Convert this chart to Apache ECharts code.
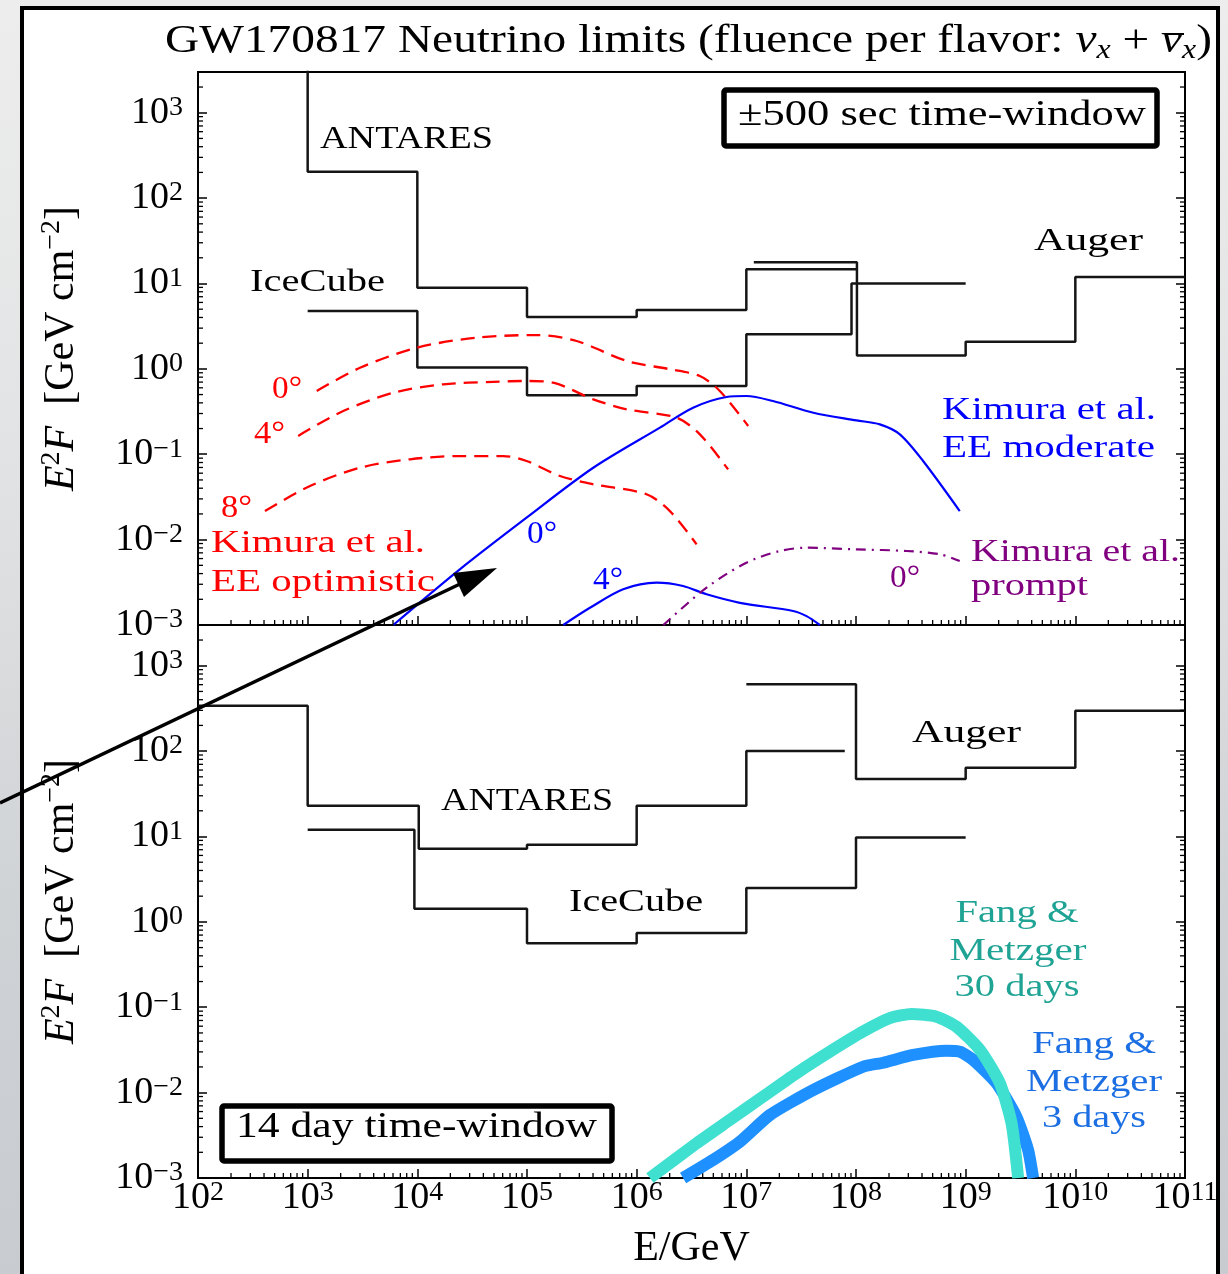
<!DOCTYPE html>
<html>
<head>
<meta charset="utf-8">
<title>GW170817 Neutrino limits</title>
<script src="https://cdn.jsdelivr.net/npm/echarts@6/dist/echarts.min.js"></script>
<style>
  html, body { margin:0; padding:0; }
  body { width:1228px; height:1274px; overflow:hidden; position:relative;
         background: linear-gradient(to bottom, #ededed 0%, #e2e3e4 35%, #d0d3d6 70%, #c8cbcf 100%); }
  #frame { position:absolute; left:20px; top:6px; width:1192px; height:1300px; border:4px solid #000; background:#fff; }
  #chart { position:absolute; left:0; top:0; width:1228px; height:1274px; }
</style>
</head>
<body>
<div id="frame"></div>
<div id="chart"></div>
<script>
// ===================== DATA =====================
// Axis decades (exponents of 10) shown as tick labels
const xDecades = [2, 3, 4, 5, 6, 7, 8, 9, 10, 11];      // E/GeV
const yDecades = [-3, -2, -1, 0, 1, 2, 3];              // E^2 F [GeV cm^-2]

// ---- Upper panel: +-500 s time window (step limits: bin edges in GeV, values) ----
const ANTARES_500_E = [1e2, 1e3, 1e4, 1e5, 1e6, 1e7, 1e8];
const ANTARES_500_V = [5e3, 204, 8.9, 4.05, 4.9, 14.7];
const ICECUBE_500_E = [1e3, 1e4, 1e5, 1e6, 1e7, 9.1e7, 1e9];
const ICECUBE_500_V = [4.76, 1.04, 0.49, 0.63, 2.54, 10.0];
const AUGER_500_E   = [1.17e7, 1.02e8, 1e9, 1e10, 1e11];
const AUGER_500_V   = [17.7, 1.43, 2.08, 11.9];

// Kimura et al. EE optimistic (red dashed)
const KIM_OPT_0_E = [1.21e3, 3.0e3, 9.86e3, 3.48e4, 1.22e5, 2.83e5, 8.09e5, 2.01e6, 3.77e6, 5.73e6, 1.04e7];
const KIM_OPT_0_V = [0.551, 1.03, 1.77, 2.32, 2.49, 2.12, 1.24, 0.99, 0.824, 0.551, 0.214];
const KIM_OPT_4_E = [8.2e2, 2.11e3, 6.03e3, 1.72e4, 4.92e4, 9.91e4, 1.73e5, 4.02e5, 8.09e5, 2.31e6, 3.77e6, 6.82e6];
const KIM_OPT_4_V = [0.164, 0.321, 0.525, 0.659, 0.706, 0.721, 0.689, 0.44, 0.336, 0.268, 0.171, 0.0665];
const KIM_OPT_8_E = [4.08e2, 1.05e3, 3.0e3, 8.57e3, 2.44e4, 6.07e4, 9.91e4, 2.0e5, 4.02e5, 1.23e6, 2.01e6, 3.52e6];
const KIM_OPT_8_V = [0.0216, 0.0425, 0.0695, 0.0873, 0.0953, 0.0953, 0.0834, 0.0556, 0.0445, 0.034, 0.0216, 0.0088];

// Kimura et al. EE moderate (blue solid)
const KIM_MOD_0_E = [6.03e3, 2.44e4, 9.91e4, 4.02e5, 1.63e6, 3.27e6, 6.59e6, 1.0e7, 1.75e7, 4.09e7, 1.01e8, 1.65e8, 2.51e8, 4.09e8, 8.83e8];
const KIM_MOD_0_V = [1.0e-3, 4.49e-3, 0.0181, 0.0695, 0.205, 0.351, 0.468, 0.481, 0.42, 0.306, 0.249, 0.224, 0.171, 0.0834, 0.0216];
const KIM_MOD_4_E = [2.14e5, 3.75e5, 7.53e5, 1.52e6, 2.65e6, 4.34e6, 8.73e6, 2.67e7, 3.54e7, 4.68e7];
const KIM_MOD_4_V = [1.0e-3, 1.59e-3, 2.62e-3, 3.13e-3, 2.86e-3, 2.29e-3, 1.82e-3, 1.46e-3, 1.27e-3, 1.0e-3];

// Kimura et al. prompt (purple dash-dot)
const KIM_PROMPT_E = [1.75e6, 4.34e6, 1.0e7, 2.02e7, 3.54e7, 1.01e8, 2.89e8, 5.81e8, 8.83e8];
const KIM_PROMPT_V = [1.0e-3, 2.74e-3, 5.36e-3, 7.36e-3, 8.04e-3, 7.69e-3, 7.36e-3, 6.73e-3, 5.62e-3];

// ---- Lower panel: 14 day time window ----
const ANTARES_14D_E = [1e2, 1e3, 1.03e4, 1e5, 1e6, 1e7, 7.9e7];
const ANTARES_14D_V = [340, 22.9, 7.2, 8.0, 22.9, 100];
const ICECUBE_14D_E = [1e3, 9.4e3, 1e5, 1e6, 1e7, 1e8, 1e9];
const ICECUBE_14D_V = [12.0, 1.42, 0.56, 0.74, 2.5, 9.7];
const AUGER_14D_E   = [1e7, 1e8, 1e9, 1e10, 1e11];
const AUGER_14D_V   = [607, 47, 64, 297];

// Fang & Metzger
const FM30_E = [1.32e6, 3.52e6, 7.08e6, 1.42e7, 2.87e7, 5.78e7, 1.16e8, 2.03e8, 3.21e8, 5.42e8, 8.24e8, 1.35e9, 2.05e9, 2.62e9, 3.01e9];
const FM30_V = [1.0e-3, 2.55e-3, 4.79e-3, 8.97e-3, 0.0169, 0.0302, 0.0519, 0.0745, 0.0836, 0.0776, 0.0593, 0.0316, 0.0129, 4.38e-3, 1.0e-3];
const FM3_E  = [2.65e6, 4.98e6, 8.73e6, 1.64e7, 4.06e7, 1.16e8, 1.77e8, 3.32e8, 6.68e8, 8.83e8, 1.17e9, 1.91e9, 2.9e9, 3.71e9, 4.12e9];
const FM3_V  = [1.0e-3, 1.63e-3, 2.66e-3, 5.47e-3, 0.0107, 0.0201, 0.0224, 0.0276, 0.031, 0.0302, 0.0242, 0.0129, 5.22e-3, 2.13e-3, 1.0e-3];

// ===================== HELPERS =====================
const SERIF = '"Liberation Serif","Times New Roman",Times,serif';
const RED = '#ff0000', BLUE = '#0000ff', PURPLE = '#800080', TEAL = '#1fa394', FBLUE = '#1c6fe3';

function stepPoints(E, V) {
  const pts = [];
  for (let i = 0; i < V.length; i++) { pts.push([E[i], V[i]]); pts.push([E[i + 1], V[i]]); }
  return pts;
}
function pairs(E, V) { return E.map((e, i) => [e, V[i]]); }

function decadeLabel(v) {
  const l = Math.log10(v), e = Math.round(l);
  if (Math.abs(l - e) > 1e-6) return '';
  if (xDecades.indexOf(e) < 0 && yDecades.indexOf(e) < 0) return '';
  const s = e < 0 ? '\u2212' + (-e) : String(e);
  return '{b|10}{s|' + s + '}';
}
const tickRich = {
  b: { fontFamily: SERIF, fontSize: 38, lineHeight: 38, verticalAlign: 'bottom', color: '#000' },
  s: { fontFamily: SERIF, fontSize: 28, lineHeight: 24, verticalAlign: 'top', color: '#000' }
};

function xAxis(gi, labels) {
  const a = {
    type: 'log', logBase: 10, gridIndex: gi, min: 1e2, max: 1e11, splitNumber: 10,
    axisLine: { show: true, onZero: false, lineStyle: { color: '#000', width: 2 } },
    axisTick: { show: true, inside: true, length: 9, lineStyle: { color: '#000', width: 1.5 } },
    minorTick: { show: false }, splitLine: { show: false },
    axisLabel: { show: labels, formatter: decadeLabel, rich: tickRich, margin: 1,
                 showMinLabel: true, showMaxLabel: true, hideOverlap: false }
  };
  if (labels) {
    a.name = 'E/GeV'; a.nameLocation = 'middle'; a.nameGap = 50;
    a.nameTextStyle = { fontFamily: SERIF, fontSize: 42, color: '#000' };
  }
  return a;
}
function yAxis(gi, side) {
  const left = side === 'left';
  const a = {
    type: 'log', logBase: 10, gridIndex: gi, min: 1e-3, max: 3000, splitNumber: 10, position: side,
    axisLine: { show: true, onZero: false, lineStyle: { color: '#000', width: 2 } },
    axisTick: { show: true, inside: true, length: 9, lineStyle: { color: '#000', width: 1.5 } },
    minorTick: { show: false }, splitLine: { show: false },
    axisLabel: { show: left, formatter: decadeLabel, rich: tickRich, margin: 15,
                 showMinLabel: true, showMaxLabel: true, hideOverlap: false }
  };
  if (left) {
    a.name = '{i|E}{s|2}{i|F}  [GeV cm{s|\u22122}]';
    a.nameLocation = 'middle'; a.nameRotate = 90; a.nameGap = 112; a.nameMoveOverlap = false;
    a.nameTextStyle = {
      fontFamily: SERIF, fontSize: 42, lineHeight: 48, color: '#000',
      rich: {
        i: { fontFamily: SERIF, fontStyle: 'italic', fontSize: 42, lineHeight: 48, color: '#000' },
        s: { fontFamily: SERIF, fontSize: 28, lineHeight: 30, verticalAlign: 'top', color: '#000' }
      }
    };
  }
  return a;
}

function stepSeries(name, E, V, gi) {
  return { name, type: 'line', xAxisIndex: gi, yAxisIndex: gi, data: stepPoints(E, V),
    showSymbol: false, symbol: 'none', clip: true, silent: true, z: 3,
    lineStyle: { color: '#151515', width: 2.5 }, itemStyle: { color: '#151515' } };
}
function curveSeries(name, E, V, gi, color, width, type, z, smooth) {
  return { name, type: 'line', xAxisIndex: gi, yAxisIndex: gi, data: pairs(E, V),
    showSymbol: false, symbol: 'none', clip: true, silent: true, smooth: smooth || 0.3, z: z || 4,
    lineStyle: { color, width, type: type || 'solid', cap: 'butt', join: 'round' }, itemStyle: { color } };
}

// minor tick marks (axis decoration at 2..9 x 10^n)
function minorTickMarks() {
  const d = [];
  for (let e = 2; e < 11; e++) for (let m = 2; m <= 9; m++) d.push([m * Math.pow(10, e), 1e-3, 0]);
  for (let e = -3; e < 4; e++) for (let m = 2; m <= 9; m++) {
    const v = m * Math.pow(10, e);
    if (v < 3000) { d.push([1e2, v, 1]); d.push([1e11, v, 2]); }
  }
  return d;
}
function minorTickSeries(gi) {
  return { type: 'custom', coordinateSystem: 'cartesian2d', xAxisIndex: gi, yAxisIndex: gi,
    data: minorTickMarks(), clip: false, silent: true, z: 5,
    renderItem: function (params, api) {
      const p = api.coord([api.value(0), api.value(1)]);
      const dir = api.value(2);
      let shape;
      if (dir === 0) shape = { x1: p[0], y1: p[1], x2: p[0], y2: p[1] - 5 };
      else if (dir === 1) shape = { x1: p[0], y1: p[1], x2: p[0] + 5, y2: p[1] };
      else shape = { x1: p[0], y1: p[1], x2: p[0] - 5, y2: p[1] };
      return { type: 'line', shape, style: { stroke: '#000', lineWidth: 1.3 } };
    } };
}

// text annotations, horizontally scaled to match the reference's wide lettering
const mctx = document.createElement('canvas').getContext('2d');
function measure(text, font) { mctx.font = font; return mctx.measureText(text).width; }
function label(text, x, cy, size, color, width, align) {
  const sx = width ? width / measure(text, size + 'px "Liberation Serif"') : 1;
  return { type: 'text', x, y: cy, scaleX: sx, z: 60,
    style: { text, fontSize: size, fontFamily: SERIF, fill: color, align: align || 'left', verticalAlign: 'middle' } };
}

// title:  GW170817 Neutrino limits (fluence per flavor: nu_x + nubar_x)
const TITLE_MAIN = 'GW170817 Neutrino limits (fluence per flavor: ';
const F40 = '40px "Liberation Serif"', F40I = 'italic 40px "Liberation Serif"', F27I = 'italic 27px "Liberation Serif"';
const wMain = measure(TITLE_MAIN, F40), wNu = measure('\u03bd', F40I), wX = measure('x', F27I), wPlus = measure(' + ', F40);
const titleWidth = wMain + 2 * wNu + 2 * wX + wPlus + measure(')', F40);
const TSX = 1047 / titleWidth;
const nubarX = 165 + TSX * (wMain + wNu + wX + wPlus);
const titleEl = { type: 'text', x: 165, y: 41, scaleX: TSX, z: 60,
  style: { text: TITLE_MAIN + '{n|\u03bd}{x|x} + {n|\u03bd}{x|x})', fontSize: 40, fontFamily: SERIF, lineHeight: 46,
    fill: '#000', align: 'left', verticalAlign: 'middle',
    rich: { n: { fontFamily: SERIF, fontStyle: 'italic', fontSize: 40, lineHeight: 46 },
            x: { fontFamily: SERIF, fontStyle: 'italic', fontSize: 27, lineHeight: 32, verticalAlign: 'bottom' } } } };
const nubarEl = { type: 'line', shape: { x1: nubarX + 4, y1: 34, x2: nubarX + TSX * wNu + 2, y2: 34 },
  style: { stroke: '#000', lineWidth: 2 }, z: 60 };

const graphics = [
  titleEl, nubarEl,
  // boxes
  { type: 'rect', shape: { x: 724, y: 90, width: 433, height: 56, r: 2 }, style: { fill: '#fff', stroke: '#000', lineWidth: 5.5 }, z: 55 },
  { type: 'rect', shape: { x: 222, y: 1106, width: 390, height: 55, r: 2 }, style: { fill: '#fff', stroke: '#000', lineWidth: 5.5 }, z: 55 },
  label('\u00b1500 sec time-window', 738, 116, 35, '#000', 408),
  label('14 day time-window', 236, 1128, 35, '#000', 361),
  // upper panel labels
  label('ANTARES', 320, 140, 31, '#000', 173),
  label('IceCube', 250, 283, 31, '#000', 135),
  label('Auger', 1034, 242, 32, '#000', 109),
  label('0\u00b0', 272, 390, 31, RED, 30),
  label('4\u00b0', 254, 435, 31, RED, 31),
  label('8\u00b0', 221, 509, 31, RED, 31),
  label('Kimura et al.', 211, 544, 32, RED, 214),
  label('EE optimistic', 211, 583, 32, RED, 224),
  label('0\u00b0', 527, 535, 31, BLUE, 30),
  label('4\u00b0', 593, 581, 31, BLUE, 30),
  label('Kimura et al.', 942, 411, 32, BLUE, 214),
  label('EE moderate', 942, 449, 32, BLUE, 213),
  label('0\u00b0', 890, 579, 31, PURPLE, 30),
  label('Kimura et al.', 971, 553, 32, PURPLE, 209),
  label('prompt', 971, 587, 32, PURPLE, 117),
  // lower panel labels
  label('Auger', 912, 734, 32, '#000', 109),
  label('ANTARES', 441, 802, 31, '#000', 172),
  label('IceCube', 569, 903, 31, '#000', 134),
  label('Fang &', 1017, 914, 31, TEAL, 123, 'center'),
  label('Metzger', 1018, 952, 31, TEAL, 137, 'center'),
  label('30 days', 1017, 988, 31, TEAL, 125, 'center'),
  label('Fang &', 1094, 1045, 31, FBLUE, 124, 'center'),
  label('Metzger', 1094, 1083, 31, FBLUE, 136, 'center'),
  label('3 days', 1094, 1119, 31, FBLUE, 104, 'center'),
  // annotation arrow
  { type: 'line', shape: { x1: 0, y1: 803, x2: 460, y2: 584 }, style: { stroke: '#000', lineWidth: 3.5 }, z: 100 },
  { type: 'polygon', shape: { points: [[497, 568], [453, 573], [464, 597]] }, style: { fill: '#000' }, z: 100 }
];

const option = {
  animation: false,
  backgroundColor: 'transparent',
  grid: [
    { left: 198, top: 72, width: 987, height: 553, show: true, borderColor: '#000', borderWidth: 2, backgroundColor: 'transparent', containLabel: false, outerBoundsMode: 'none' },
    { left: 198, top: 625, width: 987, height: 553, show: true, borderColor: '#000', borderWidth: 2, backgroundColor: 'transparent', containLabel: false, outerBoundsMode: 'none' }
  ],
  xAxis: [xAxis(0, false), xAxis(1, true)],
  yAxis: [yAxis(0, 'left'), yAxis(1, 'left'), yAxis(0, 'right'), yAxis(1, 'right')],
  series: [
    stepSeries('ANTARES (\u00b1500 s)', ANTARES_500_E, ANTARES_500_V, 0),
    stepSeries('IceCube (\u00b1500 s)', ICECUBE_500_E, ICECUBE_500_V, 0),
    stepSeries('Auger (\u00b1500 s)', AUGER_500_E, AUGER_500_V, 0),
    curveSeries('Kimura EE optimistic 0\u00b0', KIM_OPT_0_E, KIM_OPT_0_V, 0, RED, 2.3, [14, 8]),
    curveSeries('Kimura EE optimistic 4\u00b0', KIM_OPT_4_E, KIM_OPT_4_V, 0, RED, 2.3, [14, 8]),
    curveSeries('Kimura EE optimistic 8\u00b0', KIM_OPT_8_E, KIM_OPT_8_V, 0, RED, 2.3, [14, 8]),
    curveSeries('Kimura EE moderate 0\u00b0', KIM_MOD_0_E, KIM_MOD_0_V, 0, BLUE, 2.2),
    curveSeries('Kimura EE moderate 4\u00b0', KIM_MOD_4_E, KIM_MOD_4_V, 0, BLUE, 2.2),
    curveSeries('Kimura prompt 0\u00b0', KIM_PROMPT_E, KIM_PROMPT_V, 0, PURPLE, 2.2, [10, 6, 2, 6]),
    minorTickSeries(0),
    stepSeries('ANTARES (14 d)', ANTARES_14D_E, ANTARES_14D_V, 1),
    stepSeries('IceCube (14 d)', ICECUBE_14D_E, ICECUBE_14D_V, 1),
    stepSeries('Auger (14 d)', AUGER_14D_E, AUGER_14D_V, 1),
    curveSeries('Fang & Metzger 3 days', FM3_E, FM3_V, 1, '#1e90ff', 12, 'solid', 6, 0.2),
    curveSeries('Fang & Metzger 30 days', FM30_E, FM30_V, 1, '#40e0d0', 12, 'solid', 7, 0.2),
    minorTickSeries(1)
  ],
  graphic: graphics
};

const chart = echarts.init(document.getElementById('chart'), null, { renderer: 'canvas' });
chart.setOption(option);
</script>
</body>
</html>
